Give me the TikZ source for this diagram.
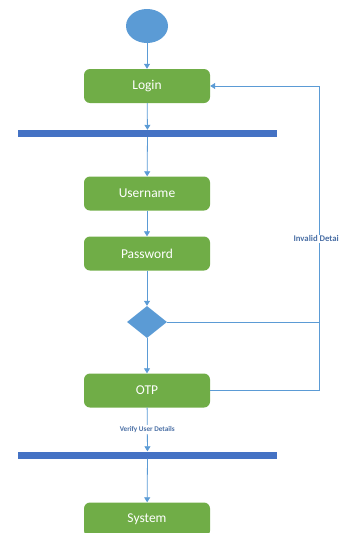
\documentclass[tikz,border=0pt]{standalone}
\usepackage{fontspec}
\setmainfont{Carlito}
\usetikzlibrary{arrows.meta,shapes.geometric}
\definecolor{actgreen}{HTML}{70AD47}
\definecolor{lightblue}{HTML}{5B9BD5}
\definecolor{barblue}{HTML}{4472C4}
\definecolor{lblblue}{HTML}{4A6FA5}
\tikzset{
  act/.style={draw=none, fill=actgreen, rounded corners=6pt, minimum width=126pt, minimum height=34pt, text=white, font=\fontsize{13.5}{15}\selectfont, inner sep=0pt},
  bar/.style={draw=none, fill=barblue, minimum width=259pt, minimum height=7pt, inner sep=0pt},
  flow/.style={draw=lightblue, line width=0.8pt, -{Triangle[width=6pt,length=5pt]}},
  plain/.style={draw=lightblue, line width=0.8pt},
  lbl/.style={fill=white, text=lblblue, font=\fontsize{7.2}{9}\selectfont\bfseries, inner sep=1pt}
}
\begin{document}
\begin{tikzpicture}[x=1pt,y=-1pt]
\useasboundingbox (0,0) rectangle (339,533);
\clip (0,0) rectangle (339,533);
\node[ellipse, fill=lightblue, minimum width=42pt, minimum height=34pt, inner sep=0pt] (start) at (147,26) {};
\node[act] (login) at (147,86) {Login};
\node[bar] (bar1) at (147.5,133.5) {};
\node[act] (user) at (147,193.5) {Username};
\node[act] (pass) at (147,253.5) {Password};
\node[diamond, fill=lightblue, minimum width=40pt, minimum height=32pt, inner sep=0pt] (dec) at (147,322) {};
\node[act] (otp) at (147,390.5) {OTP};
\node[bar] (bar2) at (147.5,455) {};
\node[act] (sys) at (147,519.5) {System};
\coordinate (cr1) at (319,390.5);
\coordinate (cr2) at (319,86);
\coordinate (cj) at (319,322);
\draw[flow] (start) -- (login);
\draw[flow] (login) -- (bar1);
\draw[flow] (bar1) -- (user);
\draw[flow] (user) -- (pass);
\draw[flow] (pass) -- (dec);
\draw[flow] (dec) -- (otp);
\draw[flow] (otp) -- node[lbl, pos=0.5] {Verify User Details} (bar2);
\draw[flow] (bar2) -- (sys);
\draw[flow] (otp.east) -- (cr1) -- node[lbl, pos=0.498, font=\fontsize{8.7}{10}\selectfont\bfseries] {Invalid Details} (cr2) -- (login.east);
\draw[plain] (dec.east) -- (cj);
\end{tikzpicture}
\end{document}
